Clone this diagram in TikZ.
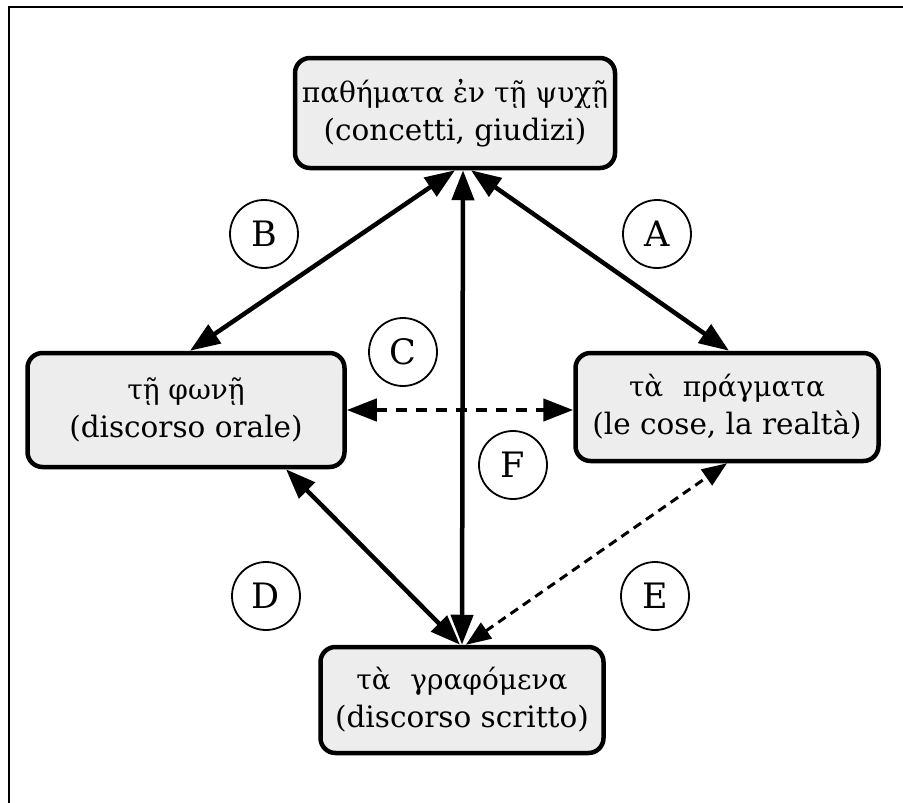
\documentclass[tikz,border=0pt]{standalone}
\usepackage{fontspec}
\setmainfont{DejaVu Serif}
\usetikzlibrary{arrows.meta,calc}
% Greek lines are set a little smaller, as DejaVu's Greek runs wide
\newcommand{\grtxt}[1]{{\fontsize{28}{38}\selectfont #1}}
\begin{document}
\begin{tikzpicture}[x=1pt,y=-1pt,
  box/.style={draw,line width=4.5pt,rounded corners=15pt,fill=gray!14,
    align=center,inner sep=0pt,font=\fontsize{29.5}{38}\selectfont},
  lab/.style={draw,circle,line width=1.8pt,minimum size=68pt,inner sep=0pt,
    font=\fontsize{35}{35}\selectfont},
  arr/.style={line width=4.5pt,{Triangle[length=30pt,width=22pt]}-{Triangle[length=30pt,width=22pt]}},
  darr/.style={arr,dash pattern=on 11pt off 9pt},
  earr/.style={line width=3pt,dash pattern=on 9pt off 6pt,
    {Triangle[length=25pt,width=19pt]}-{Triangle[length=25pt,width=19pt]}}]
\useasboundingbox (0,0) rectangle (903,803);
% frame
\draw[line width=2pt] (9,803) -- (9,7) -- (903,7);

% boxes
\node[box,minimum width=320pt,minimum height=110pt] (top) at (455,113)
  {\grtxt{παθήματα ἐν τῇ ψυχῇ}\\(concetti, giudizi)};
\node[box,minimum width=317pt,minimum height=114pt] (left) at (186,410)
  {\grtxt{τῇ φωνῇ}\\(discorso orale)};
\node[box,minimum width=303pt,minimum height=108pt] (right) at (727,407)
  {\grtxt{τὰ\hspace{0.7em}πράγματα}\\(le cose, la realtà)};
\node[box,minimum width=283pt,minimum height=106pt] (bottom) at (462,700)
  {\grtxt{τὰ\hspace{0.7em}γραφόμενα}\\(discorso scritto)};

% labels
\node[lab] (lB) at (264,234) {B};
\node[lab] (lA) at (657,234) {A};
\node[lab] (lC) at (403,352) {C};
\node[lab] (lF) at (513,465) {F};
\node[lab] (lD) at (266,596) {D};
\node[lab] (lE) at (655,596) {E};

% connectors
\draw[arr] ($(top.south)+(0,0)$) -- ($(left.north)+(4,0)$);
\draw[arr] ($(top.south)+(16,0)$) -- ($(right.north)+(2,0)$);
\draw[arr] ($(top.south)+(8,0)$) -- (bottom.north);
\draw[darr] (left.east) -- (left.east -| right.west);
\draw[arr] ($(left.south)+(100,0)$) -- ($(bottom.north)+(-2,0)$);
\draw[earr] ($(bottom.north)+(4,0)$) -- ($(right.south)+(0,0)$);
\end{tikzpicture}
\end{document}
